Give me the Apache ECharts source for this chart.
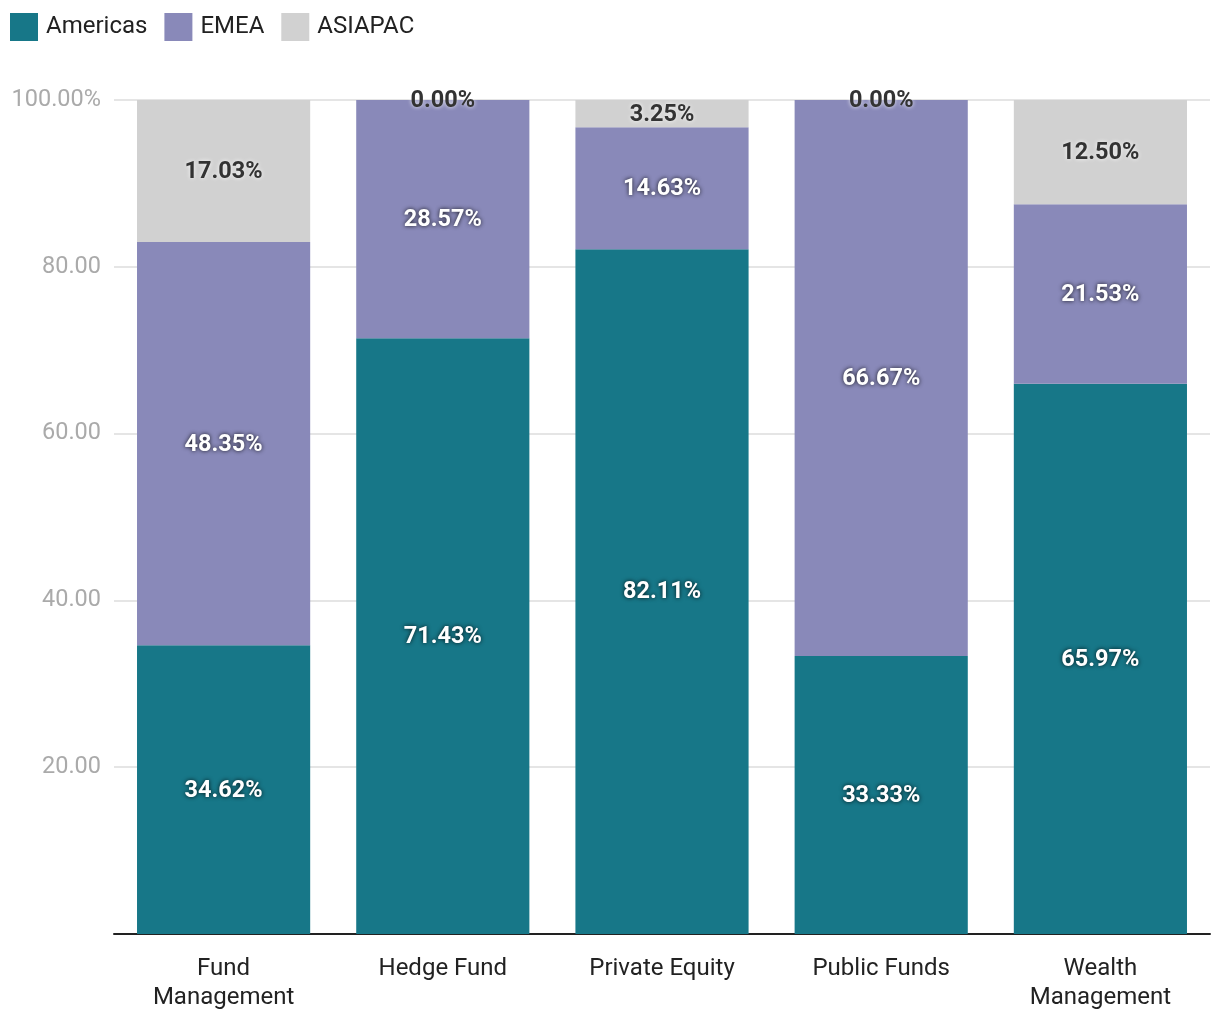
<!DOCTYPE html>
<html><head><meta charset="utf-8">
<script src="https://cdn.jsdelivr.net/npm/echarts@6/dist/echarts.min.js"></script>
<style>html,body{margin:0;padding:0;background:#fff}#c{width:1220px;height:1020px}</style>
</head><body><div id="c"></div>
<script>
const categories = ['Fund\nManagement', 'Hedge Fund', 'Private Equity', 'Public Funds', 'Wealth\nManagement'];
const americas = [34.62, 71.43, 82.11, 33.33, 65.97];
const emea = [48.35, 28.57, 14.63, 66.67, 21.53];
const asiapac = [17.03, 0.00, 3.25, 0.00, 12.50];
const yTicks = [0, 20, 40, 60, 80, 100];

const font = 'Roboto, "Noto Sans", sans-serif';
function lab(color, shadow) {
  return {
    show: true, position: 'inside', offset: [0, 1], fontFamily: font, fontSize: 23.5, fontWeight: 'bold',
    color: color, textShadowColor: shadow, textShadowBlur: 4,
    formatter: p => p.value.toFixed(2) + '%'
  };
}
const chart = echarts.init(document.getElementById('c'));
chart.setOption({
  animation: false,
  color: ['#177788', '#8989b9', '#d1d1d1'],
  legend: {
    left: 10, top: 13, padding: 0, itemWidth: 28, itemHeight: 28, itemGap: 17, icon: 'rect',
    textStyle: { fontFamily: font, fontSize: 24, color: '#222', padding: [2, 0, 0, 3] },
    data: ['Americas', 'EMEA', 'ASIAPAC']
  },
  grid: { left: 114, right: 10, top: 100, bottom: 86 },
  xAxis: {
    type: 'category', data: categories,
    axisLine: { lineStyle: { color: '#222', width: 2 } },
    axisTick: { alignWithLabel: true, length: 8, lineStyle: { color: '#222', width: 2 } },
    axisLabel: { fontFamily: font, fontSize: 24, color: '#222', lineHeight: 29, margin: 20 }
  },
  yAxis: {
    type: 'value', min: 0, max: 100, interval: 20,
    axisLine: { show: false }, axisTick: { show: false },
    splitLine: { lineStyle: { color: '#e5e5e5', width: 2 } },
    axisLabel: {
      fontFamily: font, fontSize: 23.5, color: '#aaa', margin: 13, padding: [3, 0, 0, 0],
      formatter: v => v === 0 ? '' : (v === 100 ? '100.00%' : v.toFixed(2))
    }
  },
  series: [
    { name: 'Americas', type: 'bar', stack: 's', barWidth: '79%', data: americas, label: lab('#fff', 'rgba(0,0,0,0.85)') },
    { name: 'EMEA', type: 'bar', stack: 's', data: emea, label: lab('#fff', 'rgba(0,0,0,0.85)') },
    { name: 'ASIAPAC', type: 'bar', stack: 's', data: asiapac, label: lab('#333', 'rgba(255,255,255,0.9)') }
  ]
});
</script></body></html>
